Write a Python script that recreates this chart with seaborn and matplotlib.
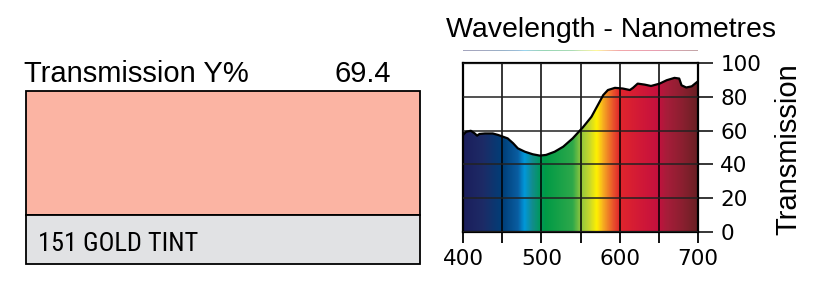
import numpy as np
import pandas as pd
import matplotlib
matplotlib.use("Agg")
import matplotlib.pyplot as plt
import seaborn as sns
from matplotlib.colors import LinearSegmentedColormap
from matplotlib.patches import Rectangle
from matplotlib import font_manager

# ---- data ----
wavelength = [400, 404, 410, 415, 418, 421, 428, 438, 445, 451, 457, 464, 470, 479, 489,
              498, 506, 517, 528, 540, 553, 564, 572, 579, 585, 594, 604, 613, 617, 623,
              632, 640, 651, 660, 670, 676, 679, 685, 692, 700]
transmission = [57.4, 59.3, 59.9, 58.3, 57.0, 58.0, 58.3, 58.3, 57.4, 56.4, 55.4, 52.5, 49.5,
                47.5, 46.0, 45.2, 45.6, 47.5, 50.5, 55.4, 61.9, 68.2, 75.0, 81.0, 84.0, 85.3,
                84.9, 84.0, 85.3, 87.8, 87.2, 86.4, 87.8, 89.8, 91.2, 90.8, 86.8, 85.5, 86.2, 89.2]
x_ticks = [400, 500, 600, 700]
y_ticks = [0, 20, 40, 60, 80, 100]
filter_name = "151 GOLD TINT"
y_value = "69.4"
swatch_color = "#FBB4A3"

spec_stops = [400, 425, 450, 470, 478, 488, 498, 505, 540, 550, 562, 571, 578, 584, 592,
              600, 625, 650, 660, 680, 700]
spec_colors = ["#1b1e5c", "#1d2b66", "#003f78", "#0a5ea2", "#0098db", "#138c8e", "#00985e",
               "#009a46", "#2ea84a", "#8cc63f", "#c9d82b", "#fff100", "#f8b61f", "#f08a25",
               "#e9532b", "#e1262c", "#d21a36", "#c4103e", "#a81d3a", "#8c1f30", "#6a2024"]

sns.set_theme(style="white")
avail = {f.name for f in font_manager.fontManager.ttflist}
main_font = ["Liberation Sans", "DejaVu Sans"]
tick_font = ["DejaVu Sans"]
narrow_font = ["Liberation Sans Narrow", "Roboto Condensed", "Liberation Sans", "DejaVu Sans"]
narrow_font = [f for f in narrow_font if f in avail] or ["DejaVu Sans"]
plt.rcParams["font.family"] = main_font

W, H = 827, 283
fig = plt.figure(figsize=(W / 100, H / 100), dpi=100)

def fx(px):
    return px / W

def fy(py):
    return 1 - py / H

# ---- left panel ----
fig.text(fx(24), fy(81.5), "Transmission Y%", fontsize=21, ha="left", va="baseline", color="black")
fig.text(fx(391), fy(81.5), y_value, fontsize=21, ha="right", va="baseline", color="black")
fig.patches.append(Rectangle((fx(26), fy(215)), fx(420) - fx(26), fy(91) - fy(215),
                             transform=fig.transFigure, facecolor=swatch_color,
                             edgecolor="black", linewidth=1.3, figure=fig))
fig.patches.append(Rectangle((fx(26), fy(264)), fx(420) - fx(26), fy(215) - fy(264),
                             transform=fig.transFigure, facecolor="#E1E2E4",
                             edgecolor="black", linewidth=1.3, figure=fig))
fig.text(fx(38), fy(251), filter_name, fontsize=19, ha="left", va="baseline",
         family=narrow_font, color="black")

# ---- spectrum panel ----
cmap = LinearSegmentedColormap.from_list(
    "spec", list(zip([(s - 400) / 300 for s in spec_stops], spec_colors)))

ax = fig.add_axes([fx(463), fy(232), fx(698) - fx(463), fy(63) - fy(232)])
df = pd.DataFrame({"wavelength": wavelength, "transmission": transmission})
grad = np.linspace(0, 1, 600).reshape(1, -1)
im = ax.imshow(grad, cmap=cmap, extent=[400, 700, 0, 100], aspect="auto",
               origin="lower", zorder=0, interpolation="bilinear")
poly = ax.fill_between(df["wavelength"], df["transmission"], 0, facecolor="none",
                       edgecolor="none")
im.set_clip_path(poly.get_paths()[0], transform=ax.transData)
sns.lineplot(data=df, x="wavelength", y="transmission", ax=ax, color="black",
             linewidth=1.6, zorder=4)

ax.set_xlim(400, 700)
ax.set_ylim(0, 100)
ax.set_xticks(x_ticks)
ax.set_xticks([450, 550, 650], minor=True)
ax.set_yticks(y_ticks)
ax.set_axisbelow(False)
ax.grid(True, which="both", axis="x", color="black", linewidth=1.1, zorder=2)
ax.grid(True, which="major", axis="y", color="#222222", linewidth=1.1, zorder=2)
ax.yaxis.tick_right()
ax.yaxis.set_label_position("right")
ax.tick_params(axis="x", which="both", direction="out", length=8, width=1.3,
               bottom=True, labelsize=15.5, pad=4, colors="black")
ax.tick_params(axis="y", direction="out", length=11, width=1.1, right=True, left=False,
               labelsize=15.5, pad=5, colors="black")
for lbl in ax.get_xticklabels() + ax.get_yticklabels():
    lbl.set_family(tick_font)
for sp in ax.spines.values():
    sp.set_visible(True)
    sp.set_color("black")
    sp.set_linewidth(1.6)
ax.set_xlabel("")
ax.set_ylabel("Transmission", fontsize=21, color="black")
ax.yaxis.set_label_coords((774 - 463) / 235, 0.49)

# title
fig.text(fx(611), fy(37), "Wavelength - Nanometres", fontsize=20.5, ha="center",
         va="baseline", color="black")
# faint spectrum line under title
lax = fig.add_axes([fx(463), fy(51), fx(698) - fx(463), 1.2 / H])
lax.imshow(grad, cmap=cmap, extent=[400, 700, 0, 1], aspect="auto", alpha=0.4)
lax.set_axis_off()

fig.savefig("out.png", dpi=100)
